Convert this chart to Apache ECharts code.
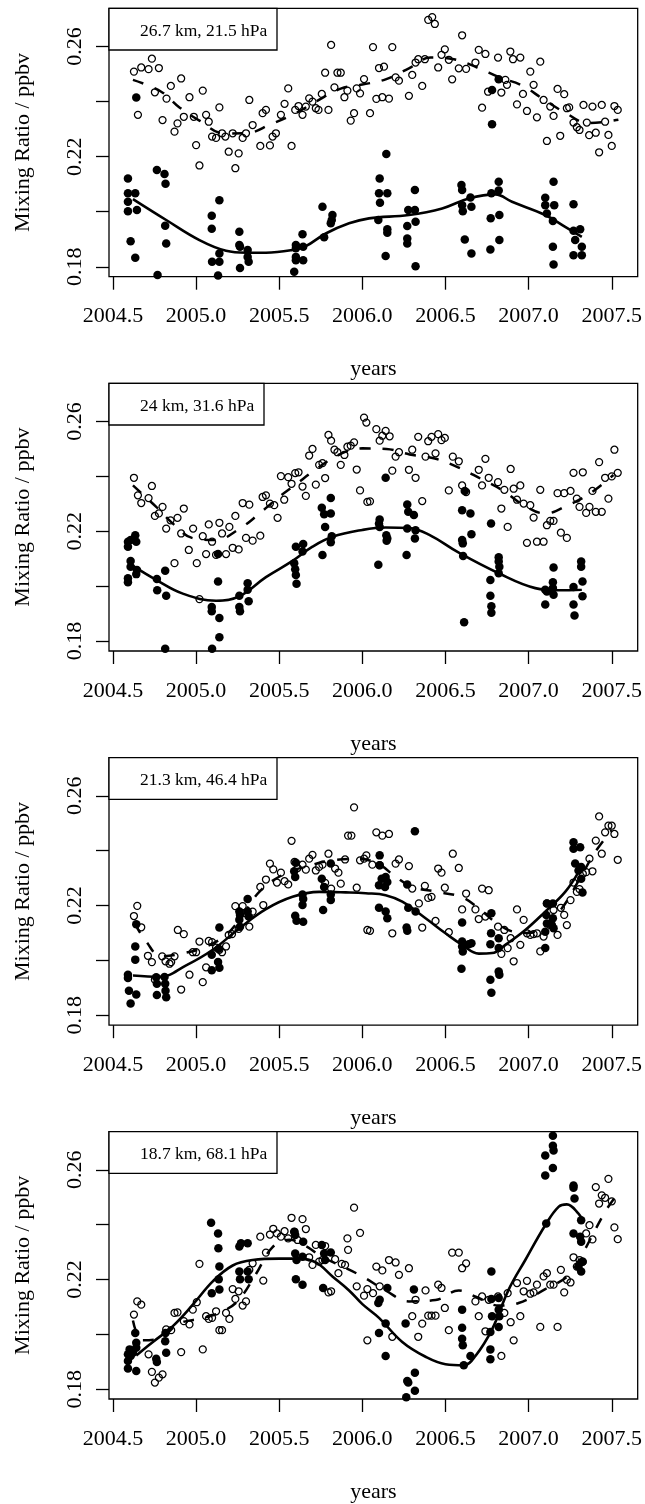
<!DOCTYPE html>
<html><head><meta charset="utf-8">
<script src="https://cdn.jsdelivr.net/npm/echarts@6/dist/echarts.min.js"></script>
<style>html,body{margin:0;padding:0;background:#fff}#c{width:645px;height:1504px}</style>
</head><body><div id="c"></div>
<script>
const xTicks = [2004.5, 2005.0, 2005.5, 2006.0, 2006.5, 2007.0, 2007.5];
const yTicks = [0.18, 0.20, 0.22, 0.24, 0.26];
const yTickLabels = [0.18, 0.22, 0.26];
const panelTitles = ['26.7 km, 21.5 hPa', '24 km, 31.6 hPa', '21.3 km, 46.4 hPa', '18.7 km, 68.1 hPa'];

// ---- Panel 1 ----
const p1Open = [
[2004.626,0.2509],[2004.67,0.2524],[2004.714,0.2518],[2004.734,0.2556],[2004.776,0.2522],
[2004.65,0.2352],[2004.752,0.2434],[2004.822,0.2411],[2004.848,0.2457],[2004.798,0.2333],
[2004.87,0.2291],[2004.888,0.2321],[2004.91,0.2484],[2004.926,0.2345],[2004.96,0.2416],
[2004.986,0.2345],[2005.0,0.2242],[2005.02,0.2168],[2005.04,0.2440],[2005.06,0.2352],
[2005.076,0.2327],[2005.096,0.2273],[2005.12,0.2268],[2005.14,0.2379],[2005.156,0.2285],
[2005.176,0.2273],[2005.196,0.2218],[2005.22,0.2285],[2005.236,0.2158],[2005.256,0.2212],
[2005.28,0.2268],[2005.3,0.2285],[2005.32,0.2406],[2005.34,0.2315],[2005.386,0.2239],
[2005.4,0.2358],[2005.42,0.2370],[2005.444,0.2241],[2005.46,0.2273],[2005.48,0.2285],
[2005.51,0.2352],[2005.532,0.2392],[2005.554,0.2448],[2005.574,0.2239],[2005.596,0.2370],
[2005.616,0.2384],[2005.64,0.2352],[2005.66,0.2382],[2005.68,0.2412],[2005.7,0.2400],
[2005.72,0.2376],[2005.736,0.2370],[2005.756,0.2428],[2005.776,0.2505],[2005.796,0.2370],
[2005.812,0.2606],[2005.832,0.2452],[2005.85,0.2505],[2005.87,0.2505],[2005.892,0.2416],
[2005.91,0.2440],[2005.93,0.2331],[2005.95,0.2358],[2005.966,0.2448],[2005.986,0.2430],
[2006.01,0.2482],[2006.046,0.2358],[2006.064,0.2598],[2006.084,0.2410],[2006.1,0.2522],
[2006.12,0.2416],[2006.13,0.2527],[2006.16,0.2411],[2006.18,0.2598],[2006.2,0.2488],
[2006.22,0.2476],[2006.28,0.2421],[2006.3,0.2497],[2006.32,0.2542],[2006.336,0.2554],
[2006.36,0.2457],[2006.376,0.2554],[2006.396,0.2697],[2006.42,0.2707],[2006.436,0.2682],
[2006.456,0.2524],[2006.476,0.2570],[2006.496,0.2590],[2006.52,0.2552],[2006.54,0.2481],
[2006.58,0.2521],[2006.6,0.2641],[2006.624,0.2519],[2006.68,0.2542],[2006.7,0.2588],
[2006.72,0.2378],[2006.74,0.2573],[2006.756,0.2436],[2006.816,0.2560],[2006.836,0.2433],
[2006.86,0.2479],[2006.87,0.2461],[2006.89,0.2582],[2006.906,0.2554],[2006.93,0.2390],
[2006.95,0.2560],[2006.966,0.2428],[2006.99,0.2366],[2007.01,0.2509],[2007.03,0.2461],
[2007.05,0.2343],[2007.07,0.2545],[2007.09,0.2406],[2007.11,0.2257],[2007.13,0.2382],
[2007.15,0.2348],[2007.174,0.2446],[2007.19,0.2276],[2007.214,0.2427],[2007.23,0.2376],
[2007.244,0.2379],[2007.27,0.2324],[2007.29,0.2307],[2007.306,0.2297],[2007.33,0.2388],
[2007.35,0.2324],[2007.364,0.2278],[2007.384,0.2382],[2007.404,0.2287],[2007.424,0.2216],
[2007.44,0.2388],[2007.46,0.2327],[2007.48,0.2279],[2007.5,0.2239],[2007.516,0.2384],
[2007.536,0.2370]
];
const p1Filled = [
[2004.59,0.2121],[2004.59,0.2067],[2004.59,0.2036],[2004.59,0.2002],[2004.606,0.1893],
[2004.634,0.2067],[2004.634,0.1833],[2004.64,0.2415],[2004.644,0.2006],[2004.764,0.2152],
[2004.768,0.1770],[2004.81,0.2137],[2004.816,0.2102],[2004.814,0.1949],[2004.82,0.1885],
[2005.094,0.1985],[2005.094,0.1938],[2005.096,0.1818],[2005.132,0.1768],[2005.14,0.2042],
[2005.14,0.1818],[2005.14,0.1848],[2005.26,0.1927],[2005.26,0.1879],[2005.264,0.1873],
[2005.264,0.1796],[2005.31,0.1861],[2005.31,0.1836],[2005.316,0.1818],[2005.6,0.1879],
[2005.6,0.1867],[2005.6,0.1836],[2005.6,0.1824],[2005.59,0.1782],[2005.64,0.1918],
[2005.644,0.1873],[2005.644,0.1824],[2005.76,0.2018],[2005.77,0.1907],[2005.81,0.1958],
[2005.82,0.1988],[2005.816,0.1970],
[2006.104,0.2121],[2006.1,0.2067],[2006.15,0.2067],[2006.106,0.2033],[2006.144,0.2210],
[2006.096,0.1970],[2006.15,0.1936],[2006.15,0.1924],[2006.14,0.1839],[2006.27,0.1948],
[2006.276,0.2006],[2006.27,0.1903],[2006.27,0.1885],[2006.316,0.2079],[2006.316,0.2006],
[2006.32,0.1964],[2006.32,0.1802],[2006.596,0.2097],[2006.6,0.2079],[2006.6,0.2024],
[2006.604,0.2002],[2006.616,0.1899],[2006.65,0.2052],[2006.656,0.2018],[2006.656,0.1848],
[2006.77,0.1863],[2006.772,0.1976],[2006.776,0.2067],[2006.78,0.2442],[2006.78,0.2318],
[2006.82,0.2481],[2006.82,0.2109],[2006.824,0.1988],[2006.824,0.1897],[2006.82,0.2077],
[2007.1,0.2051],[2007.1,0.2024],[2007.11,0.1994],[2007.15,0.2109],[2007.146,0.1966],
[2007.146,0.1873],[2007.15,0.1808],[2007.154,0.2024],[2007.27,0.2027],[2007.27,0.1931],
[2007.27,0.1842],[2007.28,0.1897],[2007.31,0.1936],[2007.32,0.1873],[2007.32,0.1842]
];
const p1OpenFit = [
[2004.62,0.2479],[2004.79,0.2436],[2004.9,0.2379],[2005.02,0.2331],[2005.17,0.2284],
[2005.3,0.2285],[2005.45,0.2318],[2005.59,0.2355],[2005.72,0.2400],[2005.87,0.2447],
[2006.0,0.2462],[2006.14,0.2481],[2006.28,0.2521],[2006.41,0.2560],[2006.55,0.2554],
[2006.69,0.2524],[2006.83,0.2487],[2006.96,0.2459],[2007.09,0.2408],[2007.22,0.2360],
[2007.36,0.2322],[2007.54,0.2334]
];
const p1FilledFit = [
[2004.62,0.2046],[2004.82,0.1970],[2005.02,0.1897],[2005.18,0.1858],[2005.3,0.1851],
[2005.42,0.1851],[2005.58,0.1861],[2005.66,0.1875],[2005.78,0.1921],[2005.92,0.1958],
[2006.04,0.1976],[2006.28,0.1988],[2006.48,0.2012],[2006.64,0.2048],[2006.8,0.2063],
[2006.9,0.2036],[2007.1,0.1988],[2007.22,0.1945],[2007.32,0.1909]
];

// ---- Panel 2 ----
const p2Open = [
[2004.626,0.2395],[2004.65,0.2331],[2004.67,0.2303],[2004.714,0.2321],[2004.734,0.2365],
[2004.752,0.2256],[2004.776,0.2265],[2004.798,0.2289],[2004.82,0.2210],[2004.846,0.2240],
[2004.87,0.2084],[2004.888,0.2249],[2004.91,0.2192],[2004.926,0.2283],[2004.956,0.2132],
[2004.982,0.2210],[2005.004,0.2084],[2005.02,0.1953],[2005.04,0.2182],[2005.06,0.2117],
[2005.076,0.2225],[2005.096,0.2162],[2005.12,0.2114],[2005.14,0.2231],[2005.156,0.2192],
[2005.18,0.2117],[2005.2,0.2216],[2005.22,0.2140],[2005.236,0.2256],[2005.256,0.2134],
[2005.28,0.2303],[2005.3,0.2176],[2005.32,0.2297],[2005.34,0.2166],[2005.386,0.2184],
[2005.4,0.2325],[2005.42,0.2331],[2005.444,0.2301],[2005.47,0.2295],[2005.49,0.2249],
[2005.51,0.2401],[2005.53,0.2315],[2005.554,0.2397],[2005.574,0.2373],[2005.596,0.2412],
[2005.616,0.2415],[2005.64,0.2363],[2005.66,0.2329],[2005.68,0.2476],[2005.7,0.2500],
[2005.72,0.2370],[2005.74,0.2442],[2005.76,0.2448],[2005.776,0.2394],[2005.796,0.2551],
[2005.812,0.2530],[2005.832,0.2497],[2005.85,0.2488],[2005.87,0.2442],[2005.892,0.2478],
[2005.91,0.2508],[2005.93,0.2512],[2005.95,0.2524],[2005.966,0.2425],[2005.986,0.2349],
[2006.01,0.2614],[2006.03,0.2307],
[2006.024,0.2596],[2006.046,0.2309],[2006.084,0.2572],[2006.104,0.2530],[2006.12,0.2548],
[2006.14,0.2566],[2006.164,0.2546],[2006.18,0.2421],[2006.2,0.2472],[2006.22,0.2488],
[2006.28,0.2424],[2006.3,0.2497],[2006.32,0.2395],[2006.336,0.2544],[2006.36,0.2310],
[2006.38,0.2472],[2006.396,0.2528],[2006.416,0.2544],[2006.44,0.2484],[2006.456,0.2554],
[2006.476,0.2532],[2006.496,0.2540],[2006.52,0.2349],[2006.544,0.2472],[2006.58,0.2455],
[2006.6,0.2367],[2006.624,0.2343],[2006.7,0.2424],[2006.72,0.2367],[2006.74,0.2464],
[2006.76,0.2395],[2006.816,0.2379],[2006.836,0.2283],[2006.854,0.2351],[2006.874,0.2216],
[2006.892,0.2427],[2006.91,0.2355],[2006.93,0.2315],[2006.95,0.2367],[2006.97,0.2301],
[2006.99,0.2158],[2007.01,0.2295],[2007.03,0.2250],[2007.05,0.2162],[2007.07,0.2351],
[2007.09,0.2162],[2007.11,0.2222],[2007.13,0.2238],[2007.15,0.2238],[2007.174,0.2339],
[2007.194,0.2195],[2007.214,0.2339],[2007.23,0.2176],[2007.252,0.2347],[2007.27,0.2413],
[2007.29,0.2319],[2007.306,0.2289],[2007.326,0.2415],[2007.346,0.2267],[2007.366,0.2289],
[2007.384,0.2347],[2007.404,0.2271],[2007.424,0.2452],[2007.44,0.2271],[2007.46,0.2395],
[2007.48,0.2319],[2007.5,0.2400],[2007.516,0.2497],[2007.536,0.2413]
];
const p2Filled = [
[2004.59,0.2144],[2004.59,0.2162],[2004.59,0.2014],[2004.59,0.2029],[2004.606,0.2168],
[2004.606,0.2092],[2004.606,0.2071],[2004.634,0.2186],[2004.64,0.2162],[2004.644,0.2059],
[2004.64,0.2044],[2004.764,0.2026],[2004.766,0.1985],[2004.814,0.2056],[2004.82,0.1965],
[2004.814,0.1772],[2005.094,0.1924],[2005.094,0.1909],[2005.096,0.1772],[2005.132,0.2117],
[2005.132,0.2017],[2005.14,0.1884],[2005.14,0.1814],[2005.26,0.1965],[2005.26,0.1924],
[2005.264,0.1909],[2005.31,0.2011],[2005.31,0.1987],[2005.316,0.1945],[2005.59,0.2084],
[2005.596,0.2062],[2005.6,0.2041],[2005.604,0.2009],[2005.6,0.2144],[2005.644,0.2154],
[2005.64,0.2126],[2005.756,0.2286],[2005.77,0.2262],[2005.776,0.2216],[2005.81,0.2321],
[2005.81,0.2265],[2005.81,0.2160],[2005.816,0.2182],[2005.76,0.2114],
[2006.104,0.2243],[2006.1,0.2228],[2006.104,0.2216],[2006.144,0.2186],[2006.15,0.2174],
[2006.146,0.2166],[2006.096,0.2078],[2006.14,0.2395],[2006.27,0.2298],[2006.276,0.2271],
[2006.31,0.2259],[2006.32,0.2204],[2006.316,0.2174],[2006.266,0.2114],[2006.27,0.2210],
[2006.6,0.2277],[2006.6,0.2168],[2006.604,0.2156],[2006.606,0.2110],[2006.616,0.2347],
[2006.65,0.2265],[2006.656,0.2189],[2006.612,0.1869],[2006.774,0.2228],[2006.77,0.2023],
[2006.77,0.1965],[2006.776,0.1927],[2006.776,0.1903],[2006.82,0.2105],[2006.82,0.2090],
[2006.824,0.2071],[2006.82,0.2047],[2007.1,0.1987],[2007.1,0.1933],[2007.11,0.1981],
[2007.15,0.2068],[2007.146,0.2014],[2007.146,0.1993],[2007.15,0.1969],[2007.27,0.1997],
[2007.27,0.1933],[2007.276,0.1893],[2007.316,0.2090],[2007.316,0.2071],[2007.324,0.2017],
[2007.324,0.1963]
];
const p2OpenFit = [
[2004.62,0.2367],[2004.76,0.2289],[2004.86,0.2228],[2004.98,0.2175],[2005.116,0.2168],
[2005.256,0.2207],[2005.376,0.2262],[2005.484,0.2318],[2005.6,0.2371],[2005.724,0.2427],
[2005.856,0.2478],[2006.0,0.2502],[2006.144,0.2500],[2006.284,0.2480],[2006.436,0.2465],
[2006.576,0.2433],[2006.71,0.2392],[2006.844,0.2349],[2006.97,0.2295],[2007.1,0.2265],
[2007.236,0.2295],[2007.37,0.2338],[2007.51,0.2405]
];
const p2FilledFit = [
[2004.62,0.2074],[2004.76,0.2023],[2004.92,0.1973],[2005.12,0.1947],[2005.26,0.1963],
[2005.42,0.2033],[2005.58,0.2092],[2005.7,0.2144],[2005.82,0.2180],[2006.0,0.2205],
[2006.14,0.2214],[2006.28,0.2212],[2006.4,0.2188],[2006.58,0.2122],[2006.82,0.2047],
[2007.04,0.1993],[2007.18,0.1985],[2007.32,0.1987]
];

// ---- Panel 3 ----
const p3Open = [
[2004.626,0.2162],[2004.646,0.2199],[2004.67,0.2121],[2004.71,0.2017],[2004.734,0.1994],
[2004.752,0.1930],[2004.796,0.2015],[2004.816,0.1997],[2004.84,0.1988],[2004.85,0.1994],
[2004.87,0.2015],[2004.89,0.2111],[2004.91,0.1894],[2004.926,0.2096],[2004.96,0.1948],
[2004.98,0.2030],[2005.0,0.2030],[2005.02,0.2069],[2005.04,0.1921],[2005.06,0.1975],
[2005.076,0.2071],[2005.096,0.2067],[2005.12,0.2047],[2005.14,0.2039],[2005.156,0.2030],
[2005.18,0.2051],[2005.196,0.2093],[2005.216,0.2096],[2005.236,0.2198],[2005.256,0.2115],
[2005.28,0.2198],[2005.3,0.2172],[2005.32,0.2123],[2005.34,0.2178],[2005.386,0.2268],
[2005.404,0.2202],[2005.42,0.2295],[2005.444,0.2353],[2005.464,0.2332],[2005.486,0.2284],
[2005.51,0.2320],[2005.532,0.2289],[2005.554,0.2277],[2005.574,0.2436],[2005.592,0.2359],
[2005.61,0.2337],[2005.64,0.2349],[2005.66,0.2331],[2005.68,0.2371],[2005.7,0.2385],
[2005.72,0.2328],[2005.74,0.2341],[2005.76,0.2349],[2005.776,0.2283],[2005.796,0.2389],
[2005.812,0.2262],[2005.836,0.2335],[2005.856,0.2320],[2005.87,0.2280],[2005.896,0.2368],
[2005.914,0.2455],[2005.934,0.2455],[2005.95,0.2558],[2005.966,0.2265],[2005.986,0.2365],
[2006.01,0.2371],[2006.03,0.2111],
[2006.024,0.2383],[2006.06,0.2349],[2006.084,0.2467],[2006.104,0.2347],[2006.12,0.2455],
[2006.16,0.2461],[2006.046,0.2108],[2006.18,0.2099],[2006.2,0.2353],[2006.22,0.2368],
[2006.28,0.2344],[2006.3,0.2262],[2006.34,0.2208],[2006.36,0.2120],[2006.376,0.2272],
[2006.396,0.2228],[2006.416,0.2232],[2006.44,0.2144],[2006.456,0.2335],[2006.476,0.2320],
[2006.496,0.2265],[2006.52,0.2103],[2006.544,0.2389],[2006.58,0.2337],[2006.6,0.2186],
[2006.624,0.2244],[2006.68,0.2186],[2006.7,0.2151],[2006.72,0.2262],[2006.74,0.2160],
[2006.76,0.2256],[2006.816,0.2123],[2006.836,0.2024],[2006.854,0.2111],[2006.874,0.2045],
[2006.892,0.2081],[2006.91,0.1997],[2006.93,0.2186],[2006.95,0.2057],[2006.97,0.2148],
[2006.99,0.2099],[2007.01,0.2093],[2007.03,0.2096],[2007.05,0.2099],[2007.07,0.2033],
[2007.09,0.2087],[2007.11,0.2208],[2007.13,0.2129],[2007.15,0.2184],[2007.174,0.2093],
[2007.194,0.2192],[2007.214,0.2166],[2007.23,0.2129],[2007.252,0.2220],[2007.27,0.2284],
[2007.29,0.2250],[2007.306,0.2260],[2007.326,0.2316],[2007.346,0.2322],[2007.366,0.2371],
[2007.384,0.2325],[2007.404,0.2437],[2007.424,0.2525],[2007.44,0.2389],[2007.46,0.2467],
[2007.48,0.2491],[2007.5,0.2491],[2007.516,0.2461],[2007.536,0.2367]
];
const p3Filled = [
[2004.59,0.1948],[2004.59,0.1936],[2004.596,0.1890],[2004.606,0.1843],[2004.634,0.2051],
[2004.634,0.2003],[2004.64,0.2132],[2004.64,0.1876],[2004.76,0.1939],[2004.764,0.1915],
[2004.764,0.1874],[2004.814,0.1915],[2004.816,0.1890],[2004.82,0.1866],[2004.81,0.1940],
[2005.094,0.2021],[2005.094,0.1964],[2005.132,0.1994],[2005.14,0.2120],[2005.14,0.1973],
[2005.136,0.2043],[2005.26,0.2178],[2005.26,0.2148],[2005.264,0.2166],[2005.264,0.2123],
[2005.31,0.2224],[2005.31,0.2178],[2005.316,0.2160],[2005.59,0.2325],[2005.596,0.2304],
[2005.6,0.2356],[2005.596,0.2163],[2005.604,0.2145],[2005.644,0.2141],[2005.64,0.2240],
[2005.64,0.2202],[2005.644,0.2224],[2005.756,0.2298],[2005.77,0.2268],[2005.764,0.2184],
[2005.81,0.2240],[2005.81,0.2220],[2005.81,0.2353],
[2006.104,0.2383],[2006.104,0.2347],[2006.116,0.2298],[2006.1,0.2274],[2006.14,0.2304],
[2006.15,0.2286],[2006.136,0.2268],[2006.1,0.2192],[2006.14,0.2178],[2006.15,0.2154],
[2006.27,0.2277],[2006.276,0.2192],[2006.32,0.2178],[2006.316,0.2471],[2006.266,0.2120],
[2006.27,0.2108],[2006.6,0.2138],[2006.6,0.2069],[2006.6,0.2051],[2006.604,0.2033],
[2006.596,0.1970],[2006.64,0.2059],[2006.656,0.2063],[2006.776,0.2172],[2006.774,0.2099],
[2006.77,0.2059],[2006.77,0.1930],[2006.776,0.1882],[2006.82,0.2081],[2006.82,0.2045],
[2006.82,0.1960],[2006.824,0.1948],[2007.1,0.2045],[2007.1,0.2105],[2007.11,0.2135],
[2007.106,0.2166],[2007.11,0.2208],[2007.14,0.2129],[2007.146,0.2154],[2007.15,0.2117],
[2007.146,0.2208],[2007.27,0.2431],[2007.27,0.2407],[2007.31,0.2413],[2007.28,0.2353],
[2007.3,0.2328],[2007.316,0.2341],[2007.316,0.2298],[2007.324,0.2248]
];
const p3OpenFit = [
[2004.63,0.2135],[2004.7,0.2069],[2004.79,0.2015],[2004.93,0.2027],[2005.05,0.2048],
[2005.18,0.2093],[2005.28,0.2165],[2005.38,0.2250],[2005.52,0.2312],[2005.66,0.2342],
[2005.82,0.2365],[2005.98,0.2370],[2006.1,0.2350],[2006.2,0.2305],[2006.3,0.2268],
[2006.45,0.2250],[2006.6,0.2230],[2006.7,0.2190],[2006.8,0.2140],[2006.9,0.2106],
[2007.0,0.2100],[2007.1,0.2130],[2007.2,0.2190],[2007.3,0.2290],[2007.4,0.2395],
[2007.5,0.2475]
];
const p3FilledFit = [
[2004.62,0.1945],[2004.78,0.1940],[2004.94,0.1982],[2005.1,0.2039],[2005.26,0.2117],
[2005.42,0.2187],[2005.58,0.2232],[2005.74,0.2250],[2005.9,0.2248],[2006.02,0.2245],
[2006.14,0.2238],[2006.24,0.2214],[2006.38,0.2154],[2006.5,0.2099],[2006.6,0.2057],
[2006.7,0.2025],[2006.78,0.2027],[2006.86,0.2057],[2006.98,0.2111],[2007.1,0.2178],
[2007.22,0.2250],[2007.3,0.2322]
];

// ---- Panel 4 ----
const p4Open = [
[2004.626,0.2072],[2004.646,0.2120],[2004.67,0.2108],[2004.714,0.1927],[2004.734,0.1863],
[2004.752,0.1824],[2004.776,0.1842],[2004.798,0.1854],[2004.82,0.2018],[2004.85,0.2015],
[2004.87,0.2078],[2004.888,0.2080],[2004.91,0.1935],[2004.926,0.2048],[2004.96,0.2036],
[2004.98,0.2090],[2005.004,0.2117],[2005.02,0.2257],[2005.04,0.1945],[2005.06,0.2066],
[2005.076,0.2056],[2005.096,0.2060],[2005.12,0.2084],[2005.14,0.2015],[2005.156,0.2015],
[2005.18,0.2078],[2005.2,0.2056],[2005.22,0.2165],[2005.236,0.2129],[2005.256,0.2157],
[2005.28,0.2105],[2005.3,0.2120],[2005.32,0.2235],[2005.34,0.2259],[2005.386,0.2356],
[2005.404,0.2196],[2005.42,0.2298],[2005.444,0.2364],[2005.464,0.2385],[2005.486,0.2368],
[2005.51,0.2356],[2005.532,0.2376],[2005.554,0.2350],[2005.574,0.2425],[2005.592,0.2374],
[2005.61,0.2344],[2005.64,0.2420],[2005.66,0.2384],[2005.68,0.2281],[2005.7,0.2253],
[2005.72,0.2326],[2005.74,0.2265],[2005.76,0.2271],[2005.776,0.2322],[2005.796,0.2153],
[2005.812,0.2157],[2005.836,0.2274],[2005.856,0.2223],[2005.876,0.2257],[2005.896,0.2253],
[2005.914,0.2308],[2005.91,0.2350],[2005.95,0.2462],[2005.966,0.2175],[2005.986,0.2370],
[2006.01,0.2141],[2006.03,0.2165],[2006.03,0.1978],
[2006.064,0.2150],[2006.084,0.2247],[2006.104,0.2175],[2006.12,0.2233],[2006.16,0.2271],
[2006.18,0.1991],[2006.2,0.2262],[2006.22,0.2217],[2006.28,0.2241],[2006.3,0.2066],
[2006.32,0.2126],[2006.336,0.1991],[2006.36,0.2039],[2006.38,0.2160],[2006.396,0.2068],
[2006.416,0.2068],[2006.44,0.2068],[2006.456,0.2181],[2006.476,0.2169],[2006.496,0.2096],
[2006.52,0.2015],[2006.54,0.2298],[2006.58,0.2298],[2006.6,0.2241],[2006.624,0.2259],
[2006.68,0.2120],[2006.7,0.2066],[2006.72,0.2138],[2006.74,0.2011],[2006.76,0.2126],
[2006.816,0.2138],[2006.836,0.1921],[2006.854,0.2078],[2006.874,0.2150],[2006.892,0.2044],
[2006.91,0.1978],[2006.93,0.2187],[2006.95,0.2066],[2006.97,0.2157],[2006.99,0.2195],
[2007.01,0.2148],[2007.03,0.2153],[2007.05,0.2181],[2007.07,0.2027],[2007.09,0.2211],
[2007.11,0.2223],[2007.13,0.2181],[2007.15,0.2181],[2007.174,0.2027],[2007.194,0.2235],
[2007.214,0.2153],[2007.23,0.2199],[2007.252,0.2189],[2007.27,0.2281],[2007.29,0.2247],
[2007.306,0.2271],[2007.326,0.2265],[2007.346,0.2368],[2007.366,0.2398],[2007.384,0.2346],
[2007.404,0.2537],[2007.424,0.2477],[2007.44,0.2507],[2007.46,0.2498],[2007.48,0.2567],
[2007.5,0.2485],[2007.516,0.2390],[2007.536,0.2347]
];
const p4Filled = [
[2004.59,0.1927],[2004.59,0.1903],[2004.59,0.1875],[2004.6,0.1945],[2004.606,0.1921],
[2004.62,0.1933],[2004.634,0.2005],[2004.64,0.1969],[2004.64,0.1866],[2004.64,0.1951],
[2004.76,0.1911],[2004.764,0.1899],[2004.814,0.1975],[2004.816,0.2005],[2004.82,0.1933],
[2005.09,0.2407],[2005.094,0.2150],[2005.132,0.2368],[2005.134,0.2314],[2005.14,0.2247],
[2005.14,0.2163],[2005.136,0.2201],[2005.26,0.2320],[2005.26,0.2229],[2005.264,0.2201],
[2005.27,0.2332],[2005.31,0.2332],[2005.31,0.2229],[2005.316,0.2201],[2005.59,0.2374],
[2005.596,0.2362],[2005.596,0.2295],[2005.6,0.2201],[2005.604,0.2271],[2005.64,0.2283],
[2005.64,0.2181],[2005.644,0.2338],[2005.756,0.2326],[2005.77,0.2295],[2005.764,0.2169],
[2005.81,0.2298],[2005.776,0.2271],
[2006.104,0.2126],[2006.096,0.2114],[2006.1,0.2005],[2006.15,0.2169],[2006.14,0.2039],
[2006.14,0.1921],[2006.26,0.2039],[2006.27,0.1830],[2006.276,0.1824],[2006.31,0.2163],
[2006.316,0.1860],[2006.316,0.1794],[2006.264,0.1770],[2006.6,0.2090],[2006.6,0.2024],
[2006.6,0.1984],[2006.604,0.1960],[2006.61,0.1887],[2006.65,0.1921],[2006.776,0.2229],
[2006.776,0.2129],[2006.77,0.2008],[2006.77,0.1945],[2006.77,0.1909],[2006.78,0.2066],
[2006.82,0.2132],[2006.82,0.2090],[2006.82,0.2027],[2006.824,0.2066],[2007.1,0.2652],
[2007.1,0.2579],[2007.106,0.2404],[2007.146,0.2724],[2007.146,0.2688],[2007.15,0.2670],
[2007.146,0.2607],[2007.27,0.2543],[2007.27,0.2535],[2007.276,0.2495],[2007.27,0.2368],
[2007.316,0.2416],[2007.31,0.2356],[2007.316,0.2338],[2007.324,0.2265],[2007.316,0.2229],
[2007.3,0.2247]
];
const p4OpenFit = [
[2004.62,0.2050],[2004.68,0.1978],[2004.78,0.1985],[2004.9,0.2040],[2005.05,0.2060],
[2005.18,0.2090],[2005.26,0.2128],[2005.36,0.2220],[2005.46,0.2318],[2005.56,0.2345],
[2005.66,0.2322],[2005.75,0.2285],[2005.87,0.2250],[2006.0,0.2211],[2006.14,0.2160],
[2006.28,0.2120],[2006.44,0.2125],[2006.58,0.2160],[2006.69,0.2135],[2006.82,0.2105],
[2006.94,0.2114],[2007.1,0.2165],[2007.24,0.2215],[2007.32,0.2290],[2007.46,0.2447],
[2007.52,0.2500]
];
const p4FilledFit = [
[2004.64,0.1923],[2004.74,0.1972],[2004.86,0.2030],[2004.98,0.2108],[2005.1,0.2193],
[2005.22,0.2251],[2005.34,0.2271],[2005.5,0.2276],[2005.62,0.2276],[2005.72,0.2262],
[2005.82,0.2211],[2005.92,0.2160],[2006.0,0.2110],[2006.1,0.2060],[2006.24,0.1972],
[2006.38,0.1918],[2006.5,0.1891],[2006.61,0.1887],[2006.68,0.1921],[2006.78,0.2018],
[2006.88,0.2163],[2006.98,0.2271],[2007.1,0.2398],[2007.18,0.2465],[2007.23,0.2474],
[2007.3,0.2440],[2007.33,0.2410]
];

const panels = [
  {open: p1Open, filled: p1Filled, openFit: p1OpenFit, filledFit: p1FilledFit},
  {open: p2Open, filled: p2Filled, openFit: p2OpenFit, filledFit: p2FilledFit},
  {open: p3Open, filled: p3Filled, openFit: p3OpenFit, filledFit: p3FilledFit},
  {open: p4Open, filled: p4Filled, openFit: p4OpenFit, filledFit: p4FilledFit}
];

const FONT = '"Liberation Serif", "Times New Roman", serif';
const tops = [8.3, 383.3, 757.7, 1131.7];
const heights = [268.4, 267.7, 267.5, 267.6];
const legendW = [168, 155, 168, 168];

const grids = [], xAxes = [], yAxes = [], series = [], graphics = [];
panels.forEach((p, i) => {
  grids.push({left: 109, right: 5.7, top: tops[i], height: heights[i], show: true,
    borderColor: '#000', borderWidth: 1.3, backgroundColor: 'transparent'});
  xAxes.push({gridIndex: i, type: 'value', min: 2004.476, max: 2007.656,
    axisLine: {show: false}, splitLine: {show: false},
    axisTick: {show: true, length: 13, customValues: xTicks, lineStyle: {color: '#000', width: 1.3}},
    axisLabel: {customValues: xTicks, formatter: v => v.toFixed(1), margin: 29,
      color: '#000', fontFamily: FONT, fontSize: 22},
    name: 'years', nameLocation: 'middle', nameGap: 82,
    nameTextStyle: {color: '#000', fontFamily: FONT, fontSize: 22}});
  yAxes.push({gridIndex: i, type: 'value', min: 0.1764, max: 0.2739,
    axisLine: {show: false}, splitLine: {show: false},
    axisTick: {show: true, length: 13, customValues: yTicks, lineStyle: {color: '#000', width: 1.3}},
    axisLabel: {customValues: yTickLabels, formatter: v => v.toFixed(2), rotate: 90, margin: 23,
      color: '#000', fontFamily: FONT, fontSize: 22},
    name: 'Mixing Ratio / ppbv', nameLocation: 'middle', nameRotate: 90, nameGap: 75,
    nameTextStyle: {color: '#000', fontFamily: FONT, fontSize: 22}});
  series.push({type: 'scatter', xAxisIndex: i, yAxisIndex: i, data: p.open, symbol: 'circle',
    symbolSize: 7, clip: true, z: 2, silent: true,
    itemStyle: {color: 'rgba(0,0,0,0)', borderColor: '#000', borderWidth: 1.25, opacity: 1}});
  series.push({type: 'scatter', xAxisIndex: i, yAxisIndex: i, data: p.filled, symbol: 'circle',
    symbolSize: 8.5, clip: true, z: 2, silent: true, itemStyle: {color: '#000', opacity: 1}});
  series.push({type: 'line', xAxisIndex: i, yAxisIndex: i, data: p.openFit, smooth: 0.4,
    showSymbol: false, symbol: 'none', z: 3, silent: true,
    lineStyle: {color: '#000', width: 2.5, type: [11, 12]}});
  series.push({type: 'line', xAxisIndex: i, yAxisIndex: i, data: p.filledFit, smooth: 0.4,
    showSymbol: false, symbol: 'none', z: 3, silent: true,
    lineStyle: {color: '#000', width: 2.6}});
  graphics.push({type: 'rect', z: 10, shape: {x: 109, y: tops[i], width: legendW[i], height: 41.7},
    style: {fill: '#fff', stroke: '#000', lineWidth: 1.3}});
  graphics.push({type: 'text', z: 11, x: 140, y: tops[i] + 23,
    style: {text: panelTitles[i], font: '17.5px ' + FONT, fill: '#000',
      textAlign: 'left', textVerticalAlign: 'middle', align: 'left', verticalAlign: 'middle'}});
});

const chart = echarts.init(document.getElementById('c'), null, {renderer: 'canvas'});
chart.setOption({
  animation: false,
  backgroundColor: '#fff',
  grid: grids, xAxis: xAxes, yAxis: yAxes, series: series, graphic: graphics
});
</script>
</body></html>
